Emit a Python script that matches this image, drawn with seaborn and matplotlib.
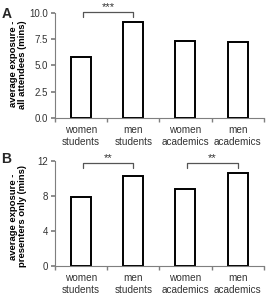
import pandas as pd
import seaborn as sns
import matplotlib.pyplot as plt
from matplotlib.ticker import FormatStrFormatter

groups = ["women\nstudents", "men\nstudents", "women\nacademics", "men\nacademics"]
all_attendees = [5.8, 9.08, 7.33, 7.25]
presenters_only = [7.9, 10.25, 8.76, 10.56]

df_a = pd.DataFrame({"group": groups, "mins": all_attendees})
df_b = pd.DataFrame({"group": groups, "mins": presenters_only})

sns.set_theme(style="white")
plt.rcParams["font.family"] = ["Liberation Sans", "DejaVu Sans"]

grey = "#7f7f7f"
txt = "#333333"

fig = plt.figure(figsize=(2.71, 2.97), dpi=100)
ax_a = fig.add_axes([0.203, 0.603, 0.770, 0.354])
ax_b = fig.add_axes([0.203, 0.105, 0.770, 0.354])


def draw(ax, df, ylim, yticks, fmt, label, label_y, brackets):
    sns.barplot(data=df, x="group", y="mins", ax=ax, color="white",
                edgecolor="black", linewidth=1.4, width=0.385)
    ax.set_xlim(-0.5, 3.5)
    ax.set_ylim(*ylim)
    ax.set_yticks(yticks)
    ax.yaxis.set_major_formatter(FormatStrFormatter(fmt))
    ax.set_xlabel("")
    ax.set_ylabel(label, fontsize=6.8, fontweight="bold", color="black",
                  linespacing=1.05)
    ax.yaxis.set_label_coords(-0.133, label_y)
    for s in ["top", "right"]:
        ax.spines[s].set_visible(False)
    for s in ["left", "bottom"]:
        ax.spines[s].set_color(grey)
        ax.spines[s].set_linewidth(0.8)
    ax.tick_params(axis="x", which="major", length=0, labelsize=7.2,
                   labelcolor=txt, pad=5)
    for t in ax.get_xticklabels():
        t.set_linespacing(1.25)
    ax.set_xticks([-0.5, 0.5, 1.5, 2.5, 3.5], minor=True)
    ax.tick_params(axis="x", which="minor", length=3, color=grey,
                   direction="out", bottom=True)
    ax.tick_params(axis="y", length=3, color=grey, direction="out", left=True,
                   labelsize=7, labelcolor=txt, pad=2)
    for x0, x1, yb, yt, stars in brackets:
        ax.plot([x0, x0, x1, x1], [yb, yt, yt, yb], color="#555555",
                linewidth=0.9, clip_on=False)
        ax.text((x0 + x1) / 2, yt, stars, ha="center", va="bottom",
                fontsize=8, color=txt, clip_on=False)


draw(ax_a, df_a, (0, 10), [0, 2.5, 5.0, 7.5, 10.0], "%.1f",
     "average exposure -\nall attendees (mins)", 0.51,
     [(0.03, 1.0, 9.6, 10.05, "***")])
draw(ax_b, df_b, (0, 12), [0, 4, 8, 12], "%d",
     "average exposure -\npresenters only (mins)", 0.47,
     [(0.03, 1.0, 11.2, 11.75, "**"), (2.03, 3.0, 11.2, 11.75, "**")])

fig.text(0.005, 0.978, "A", fontsize=10, fontweight="bold", va="top")
fig.text(0.005, 0.488, "B", fontsize=10, fontweight="bold", va="top")

fig.savefig("out.png", dpi=100)
